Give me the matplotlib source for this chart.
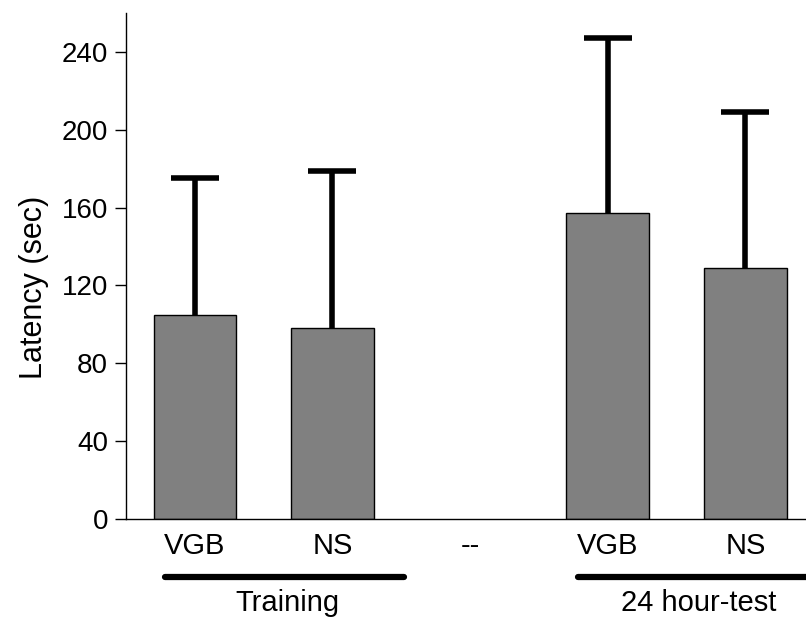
import matplotlib
matplotlib.use("Agg")
import matplotlib.pyplot as plt
import numpy as np

plt.rcParams["font.family"] = ["Liberation Sans", "DejaVu Sans"]

# categories along x; the middle "--" slot has no bar
labels = ["VGB", "NS", "--", "VGB", "NS"]
means = [105, 98, np.nan, 157, 129]
upper = [175, 179, np.nan, 247, 209]   # top of the error bar
groups = [("Training", -0.22, 1.52, 0.67), ("24 hour-test", 2.785, 4.6, 3.66)]

x = np.arange(len(labels))
m = np.array(means, dtype=float)
err = np.array(upper, dtype=float) - m

fig = plt.figure(figsize=(8.06, 6.17), dpi=100)
ax = fig.add_axes([0.1563, 0.1588, 0.8437, 0.8202])

ok = ~np.isnan(m)
ax.bar(x[ok], m[ok], width=0.6, color="#808080", edgecolor="black", linewidth=1.0, zorder=2)
eb = ax.errorbar(x[ok], m[ok], yerr=[np.zeros(ok.sum()), err[ok]], fmt="none",
                 ecolor="black", elinewidth=4.0, capsize=17, capthick=4.0, zorder=3)
# only the upper caps are drawn in the original
eb[1][0].set_visible(False)
for ln in eb[1]:
    ln.set_solid_capstyle("round")

ax.set_xlim(-0.5, 4.44)
ax.set_ylim(0, 260)
ax.set_yticks([0, 40, 80, 120, 160, 200, 240])
ax.set_xticks(x)
ax.set_xticklabels(labels)
ax.tick_params(axis="y", labelsize=20, length=8, width=1.0, pad=5)
ax.tick_params(axis="x", labelsize=21, length=0, pad=9)
ax.set_ylabel("Latency (sec)", fontsize=22, labelpad=9, y=0.458)

for side in ("top", "right"):
    ax.spines[side].set_visible(False)
for side in ("left", "bottom"):
    ax.spines[side].set_linewidth(1.0)

# group underlines and names below the tick labels
for name, x0, x1, xc in groups:
    ax.plot([x0, x1], [-29.7, -29.7], color="black", lw=4.5,
            solid_capstyle="round", clip_on=False)
    ax.text(xc, -43, name, ha="center", va="center", fontsize=21)

fig.savefig("out.png", dpi=100)
